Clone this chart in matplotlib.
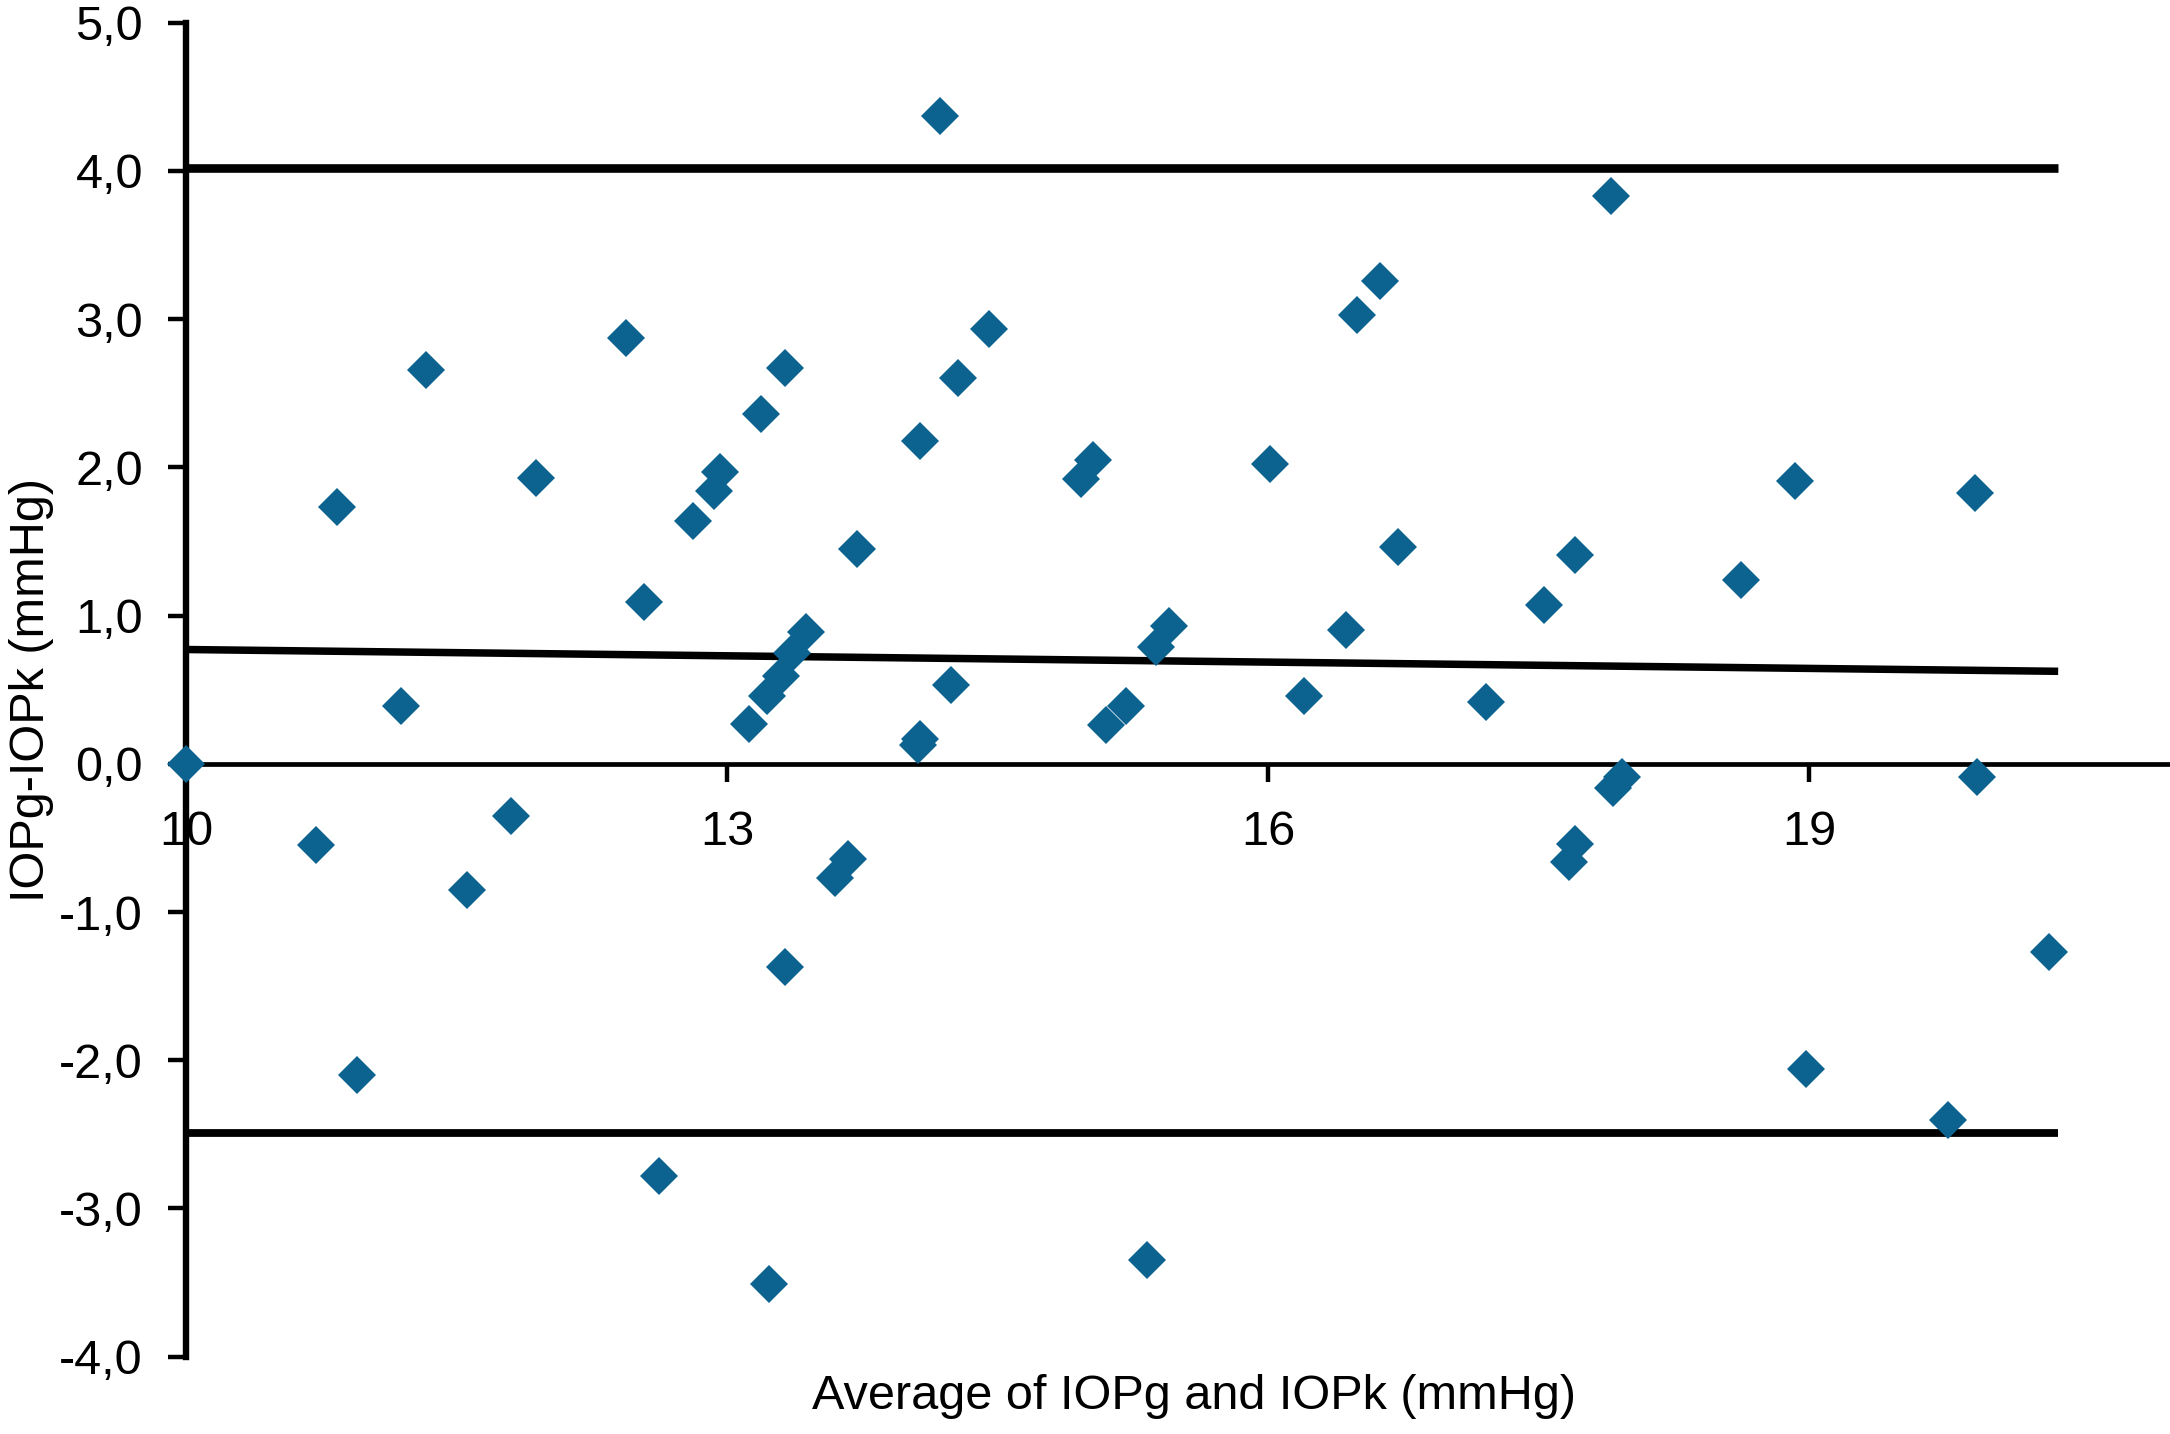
import matplotlib
matplotlib.use('Agg')
import matplotlib.pyplot as plt
from matplotlib.ticker import FuncFormatter

plt.rcParams['font.family'] = ['Liberation Sans', 'DejaVu Sans']
plt.rcParams['axes.unicode_minus'] = False

# Bland-Altman data: mean of IOPg and IOPk vs difference
avg = [10.00, 10.72, 10.84, 10.95, 11.19, 11.33, 11.56, 11.80, 11.94, 12.44,
       12.54, 12.62, 12.81, 12.93, 12.96, 13.12, 13.19, 13.22, 13.23, 13.30,
       13.32, 13.32, 13.36, 13.44, 13.60, 13.67, 13.72, 14.07, 14.06, 14.07,
       14.18, 14.24, 14.28, 14.45, 14.96, 15.03, 15.10, 15.21, 15.33, 15.38,
       15.45, 16.01, 16.20, 16.43, 16.49, 16.62, 16.72, 17.21, 17.53, 17.67,
       17.70, 17.70, 17.91, 17.90, 17.96, 18.62, 18.92, 18.98, 19.77, 19.92,
       19.93, 20.33]
diff = [0.00, -0.55, 1.73, -2.10, 0.39, 2.66, -0.85, -0.35, 1.93, 2.87,
        1.09, -2.78, 1.64, 1.84, 1.97, 0.27, 2.36, 0.455, -3.51, 0.59,
        2.67, -1.37, 0.75, 0.89, -0.77, -0.64, 1.45, 2.18, 0.125, 0.17,
        4.37, 0.53, 2.60, 2.93, 1.92, 2.05, 0.26, 0.39, -3.35, 0.79,
        0.93, 2.02, 0.46, 0.90, 3.03, 3.26, 1.46, 0.42, 1.07, -0.66,
        -0.54, 1.41, -0.16, 3.83, -0.09, 1.24, 1.91, -2.06, -2.40, 1.83,
        -0.09, -1.27]

upper_loa = 4.02
lower_loa = -2.49
line_x = [10.0, 20.38]
trend_y = [0.771, 0.624]

xticks = [10, 13, 16, 19]
yticks = [-4, -3, -2, -1, 0, 1, 2, 3, 4, 5]

fig = plt.figure(figsize=(21.7, 14.34), dpi=100)
ax = fig.add_axes([0.0857, 0.0539, 0.9143, 0.9303])

ax.plot(line_x, [upper_loa, upper_loa], color='black', lw=6.2, solid_capstyle='butt')
ax.plot(line_x, [lower_loa, lower_loa], color='black', lw=5.6, solid_capstyle='butt')
ax.plot(line_x, trend_y, color='black', lw=5.4, solid_capstyle='butt')

ax.plot(avg, diff, linestyle='none', marker='D', ms=19.5, mew=0,
        color='#0d6390', zorder=5, clip_on=False)

ax.set_xlim(10, 21.0)
ax.set_ylim(-4, 5)

ax.spines['top'].set_visible(False)
ax.spines['right'].set_visible(False)
ax.spines['bottom'].set_position(('data', 0))
ax.spines['left'].set_linewidth(4.6)
ax.spines['bottom'].set_linewidth(3.4)

ax.set_xticks(xticks)
ax.set_yticks(yticks)
ax.yaxis.set_major_formatter(FuncFormatter(lambda v, p: f'{v:.1f}'.replace('.', ',')))
ax.tick_params(axis='y', direction='out', length=13, width=3.2, pad=18, labelsize=35)
ax.tick_params(axis='x', direction='out', length=13, width=3.2, pad=20, labelsize=35)

ax.set_ylabel('IOPg-IOPk (mmHg)', fontsize=35, labelpad=4)
ax.set_xlabel('Average of IOPg and IOPk (mmHg)', fontsize=35)
ax.xaxis.set_label_coords(0.508, -0.013)

fig.savefig('out.png', dpi=100, facecolor='white')
